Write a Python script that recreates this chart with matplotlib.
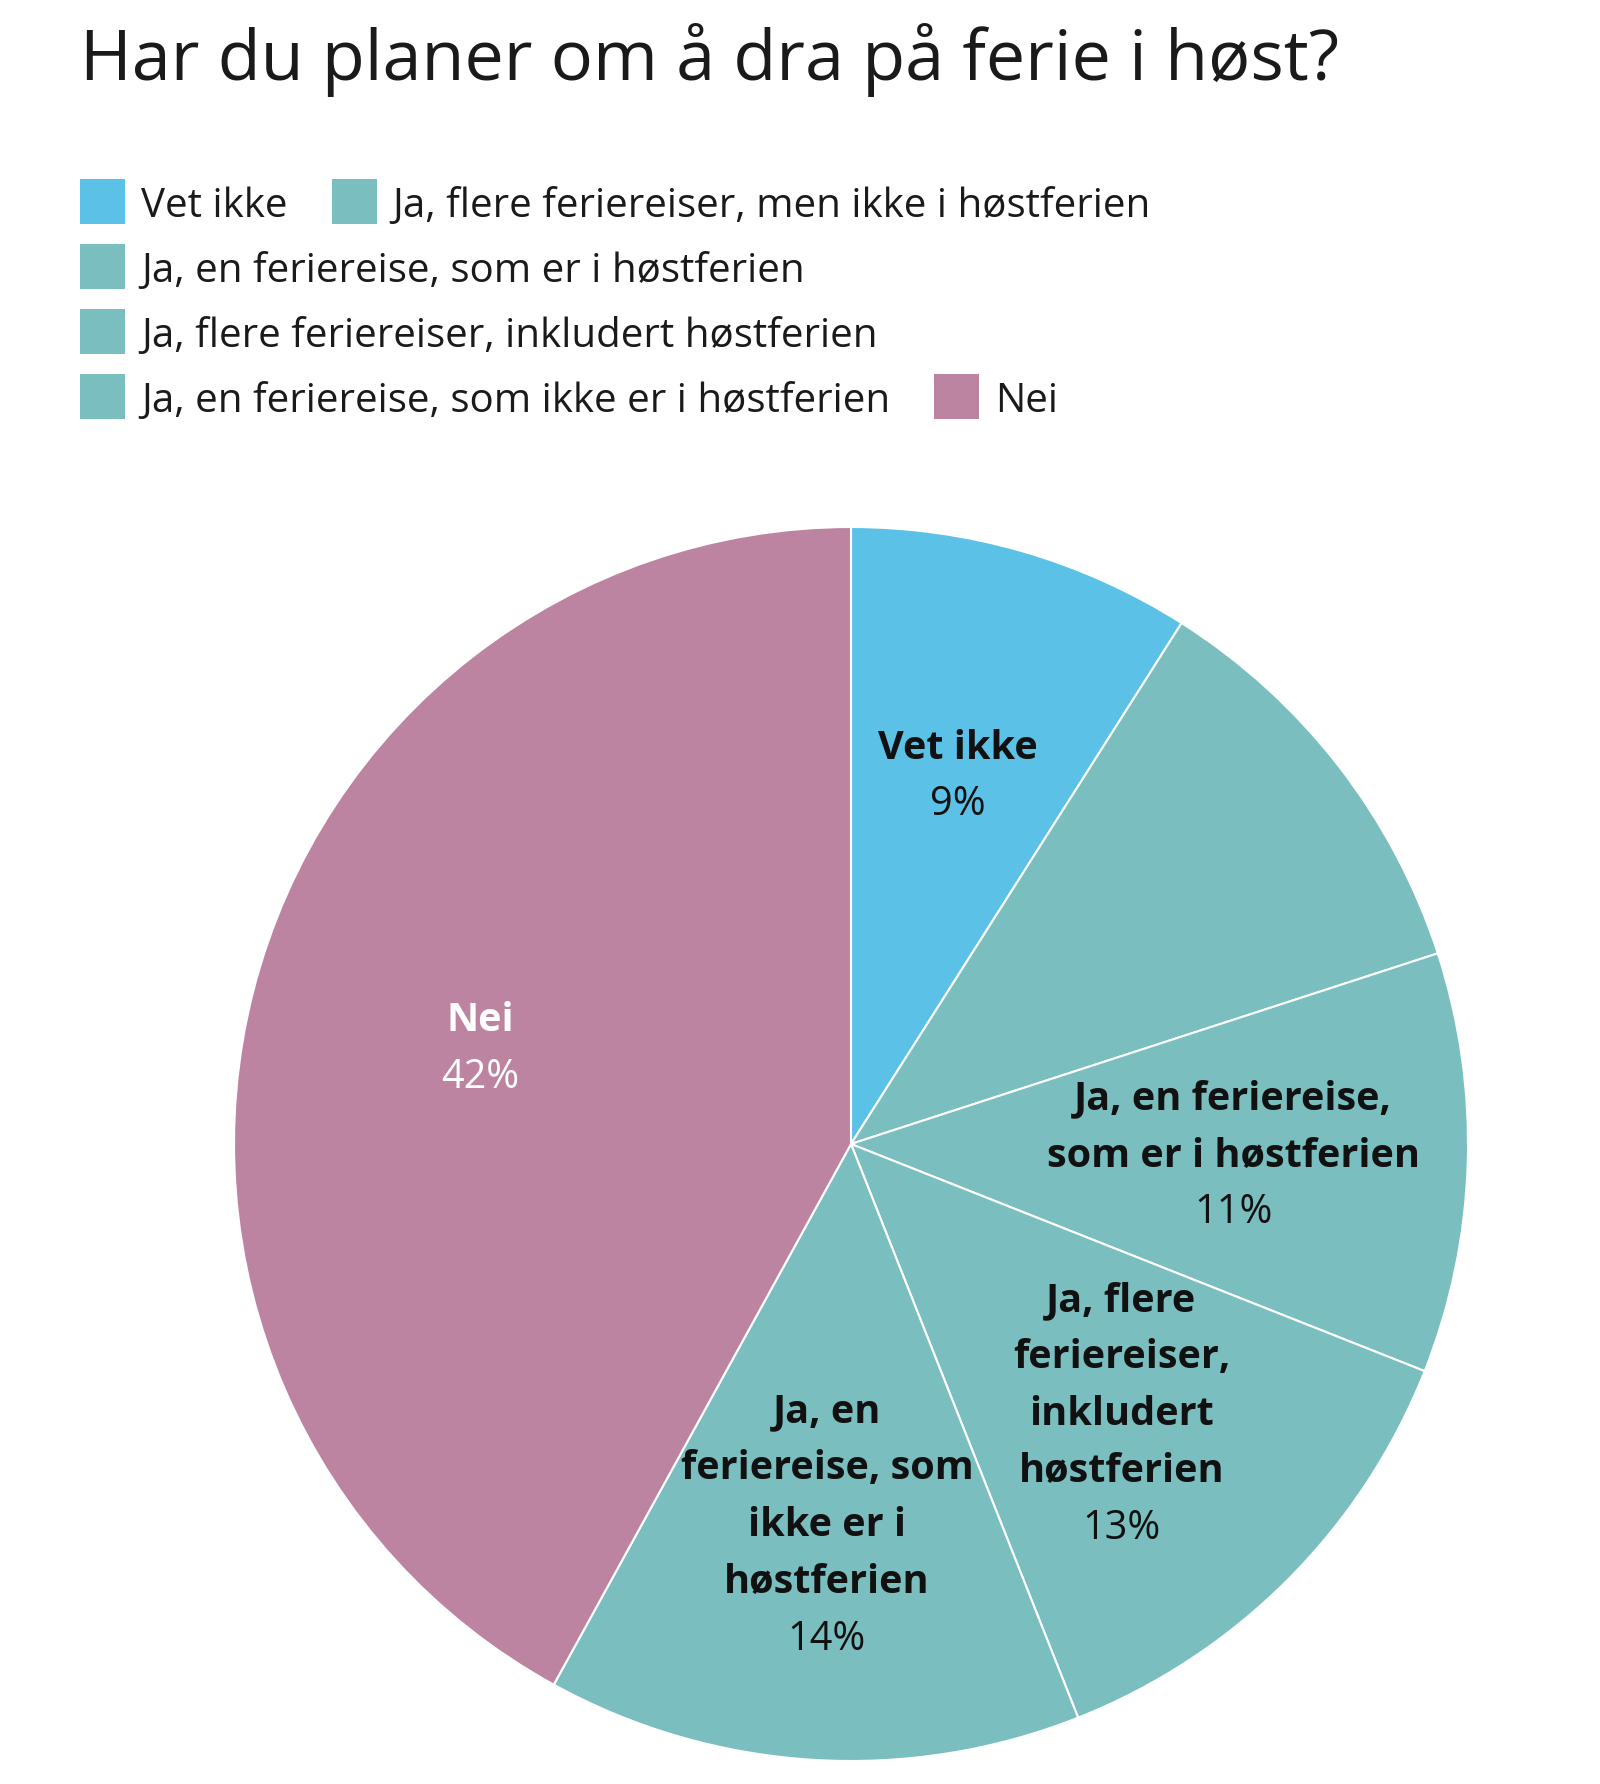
import matplotlib
matplotlib.use('Agg')
import matplotlib.pyplot as plt
from matplotlib.patches import Rectangle
import numpy as np

# ---- data ----
title = "Har du planer om å dra på ferie i høst?"
categories = ["Vet ikke",
              "Ja, flere feriereiser, men ikke i høstferien",
              "Ja, en feriereise, som er i høstferien",
              "Ja, flere feriereiser, inkludert høstferien",
              "Ja, en feriereise, som ikke er i høstferien",
              "Nei"]
values = [9, 11, 11, 13, 14, 42]
colors = ["#5BC1E6", "#7ABEC0", "#7ABEC0", "#7ABEC0", "#7ABEC0", "#BD84A2"]
slice_labels = ["Vet ikke",
                None,
                "Ja, en feriereise,\nsom er i høstferien",
                "Ja, flere\nferiereiser,\ninkludert\nhøstferien",
                "Ja, en\nferiereise, som\nikke er i\nhøstferien",
                "Nei"]
label_colors = ["#111111", "#111111", "#111111", "#111111", "#111111", "#FFFFFF"]
legend_rows = [[0, 1], [2], [3], [4, 5]]

# ---- figure ----
W, H = 1600, 1784
plt.rcParams['font.family'] = ['Open Sans', 'DejaVu Sans']
fig = plt.figure(figsize=(W / 100, H / 100), dpi=100)
fig.patch.set_facecolor('white')

def fx(px):
    return px / W

def fy(py):
    return 1 - py / H

# title
fig.text(fx(80), fy(80), title, fontsize=50.5, color="#1a1a1a", va='baseline', ha='left')

# legend
renderer = fig.canvas.get_renderer()
row_top = 179
row_step = 65
sq = 45
for r, row in enumerate(legend_rows):
    x = 80
    ytop = row_top + r * row_step
    for idx in row:
        fig.add_artist(Rectangle((fx(x), fy(ytop + sq)), sq / W, sq / H,
                                 transform=fig.transFigure, facecolor=colors[idx],
                                 edgecolor='none'))
        t = fig.text(fx(x + 61), fy(ytop + 38), categories[idx], fontsize=29,
                     color="#1a1a1a", va='baseline', ha='left')
        w = t.get_window_extent(renderer).width
        x = x + 61 + w + 44

# pie
cx, cy, R = 851, 1144, 617
ax = fig.add_axes([fx(cx - R), fy(cy + R), 2 * R / W, 2 * R / H])
wedges, _ = ax.pie(values, colors=colors, startangle=90, counterclock=False,
                   radius=1.0, wedgeprops=dict(edgecolor='white', linewidth=1.5))
ax.set_xlim(-1, 1)
ax.set_ylim(-1, 1)
ax.set_aspect('equal')
ax.axis('off')

spacing = 57 / R
for wdg, lab, val, lc in zip(wedges, slice_labels, values, label_colors):
    if lab is None:
        continue
    mid = np.deg2rad((wdg.theta1 + wdg.theta2) / 2)
    bx, by = 0.62 * np.cos(mid), 0.62 * np.sin(mid)
    lines = lab.split("\n")
    n = len(lines) + 1
    for i, ln in enumerate(lines):
        yy = by - (i - (n - 1) / 2) * spacing
        ax.text(bx, yy, ln, ha='center', va='center', fontsize=28.5,
                fontweight='bold', color=lc)
    yy = by - ((n - 1) - (n - 1) / 2) * spacing
    ax.text(bx, yy, f"{val}%", ha='center', va='center', fontsize=28.5,
            color=lc)

fig.savefig("out.png", dpi=100, facecolor='white')
